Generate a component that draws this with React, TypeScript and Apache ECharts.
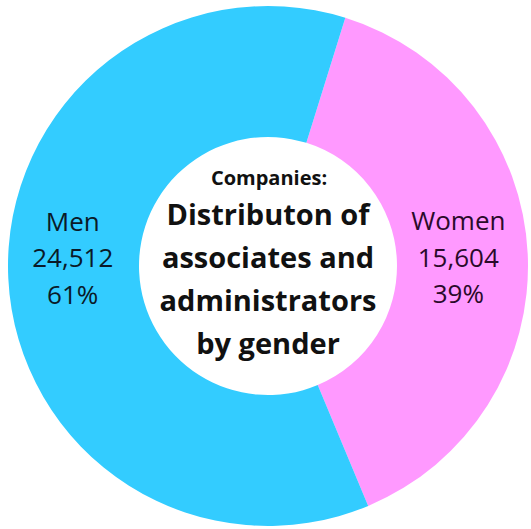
import React, { useEffect, useRef } from "react";
import * as echarts from "echarts";

const categories = ["Women", "Men"];
const values = [15604, 24512];
const colors = ["#FF99FF", "#33CCFF"];
const labelColors = ["#2a0a2a", "#0a1a28"];
const centerHeading = "Companies:";
const centerTitle = ["Distributon of", "associates and", "administrators", "by gender"];

export default function App() {
  const ref = useRef<HTMLDivElement>(null);
  useEffect(() => {
    document.body.style.margin = "0";
    const chart = echarts.init(ref.current!, null, { renderer: "svg" });
    const labelOffsets = [[-7, 0], [2, -18]];
    chart.setOption({
      animation: false,
      backgroundColor: "#ffffff",
      series: [
        {
          type: "pie",
          center: [268, 266],
          radius: [129, 260],
          startAngle: 72.7,
          clockwise: true,
          silent: true,
          emphasis: { disabled: true },
          labelLine: { show: false },
          itemStyle: { borderWidth: 0 },
          data: categories.map((name, i) => ({
            name,
            value: values[i],
            itemStyle: { color: colors[i] },
            label: {
              show: true,
              position: "inside",
              color: labelColors[i],
              offset: labelOffsets[i],
            },
          })),
          label: {
            show: true,
            position: "inside",
            fontFamily: "Open Sans",
            fontSize: 26,
            lineHeight: 36.5,
            align: "center",
            formatter: (p: any) =>
              `${p.name}\n${Number(p.value).toLocaleString("en-US")}\n${Math.round(p.percent)}%`,
          },
        },
      ],
      graphic: [
        {
          type: "text",
          x: 269,
          y: 177,
          style: {
            text: centerHeading,
            fontFamily: "Open Sans",
            fontWeight: "bold",
            fontSize: 20,
            fill: "#111111",
            align: "center",
            verticalAlign: "middle",
          },
        },
        {
          type: "text",
          x: 268,
          y: 278,
          style: {
            text: centerTitle.join("\n"),
            fontFamily: "Open Sans",
            fontWeight: "bold",
            fontSize: 29,
            lineHeight: 43,
            fill: "#111111",
            align: "center",
            verticalAlign: "middle",
          },
        },
      ],
    });
    return () => chart.dispose();
  }, []);
  return (
    <div
      ref={ref}
      style={{ width: 531, height: 529, position: "absolute", left: 0, top: 0 }}
    />
  );
}
